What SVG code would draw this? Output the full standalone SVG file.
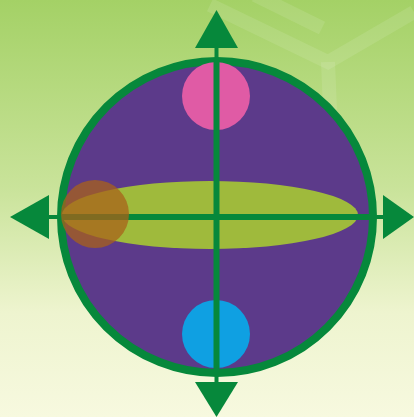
<svg xmlns="http://www.w3.org/2000/svg" width="414" height="417" viewBox="0 0 414 417">
<defs>
<linearGradient id="bg" x1="0" y1="0" x2="0" y2="1">
<stop offset="0" stop-color="#a4d166"/>
<stop offset="0.45" stop-color="#c9e39a"/>
<stop offset="0.75" stop-color="#eef4cf"/>
<stop offset="1" stop-color="#f7f9df"/>
</linearGradient>
<style>
.ax{stroke:#06883b;stroke-width:6;fill:none}
.stem{stroke:#06883b;stroke-width:4;fill:none}
.head{fill:#06883b}
.deco{stroke:#ffffff;stroke-opacity:0.1;stroke-width:14;fill:none}
</style>
</defs>
<rect width="414" height="417" fill="url(#bg)"/>
<g id="decor">
<path class="deco" d="M210 5 L328 62 L414 12"/>
<path class="deco" d="M328 62 L330 110"/>
<path class="deco" d="M255 -5 L322 28"/>
</g>
<g id="sphere">
<circle cx="217" cy="217" r="156" fill="#5c3a8a" stroke="#06883b" stroke-width="8"/>
</g>
<g id="equator">
<ellipse cx="210" cy="215" rx="148" ry="34" fill="#9fba3c"/>
</g>
<g id="pink">
<circle cx="216" cy="96" r="34" fill="#e05ba5"/>
</g>
<g id="blue">
<circle cx="216" cy="334" r="34" fill="#0fa0e2"/>
</g>
<g id="connectors">
<line class="ax" x1="216.5" y1="60" x2="216.5" y2="376"/>
<line class="ax" x1="60" y1="217" x2="374" y2="217"/>
<line class="stem" x1="216.5" y1="45" x2="216.5" y2="62"/>
<line class="stem" x1="216.5" y1="372" x2="216.5" y2="386"/>
<line class="stem" x1="47" y1="217" x2="62" y2="217"/>
<line class="stem" x1="372" y1="217" x2="386" y2="217"/>
<polygon class="head" points="216.5,10 238,48 195,48"/>
<polygon class="head" points="216.5,417 238,382 195,382"/>
<polygon class="head" points="10,217 49,195 49,239"/>
<polygon class="head" points="414,217 383,195 383,239"/>
</g>
<g id="orange">
<circle cx="95" cy="214" r="34" fill="#a8621a" fill-opacity="0.75"/>
</g>
</svg>
